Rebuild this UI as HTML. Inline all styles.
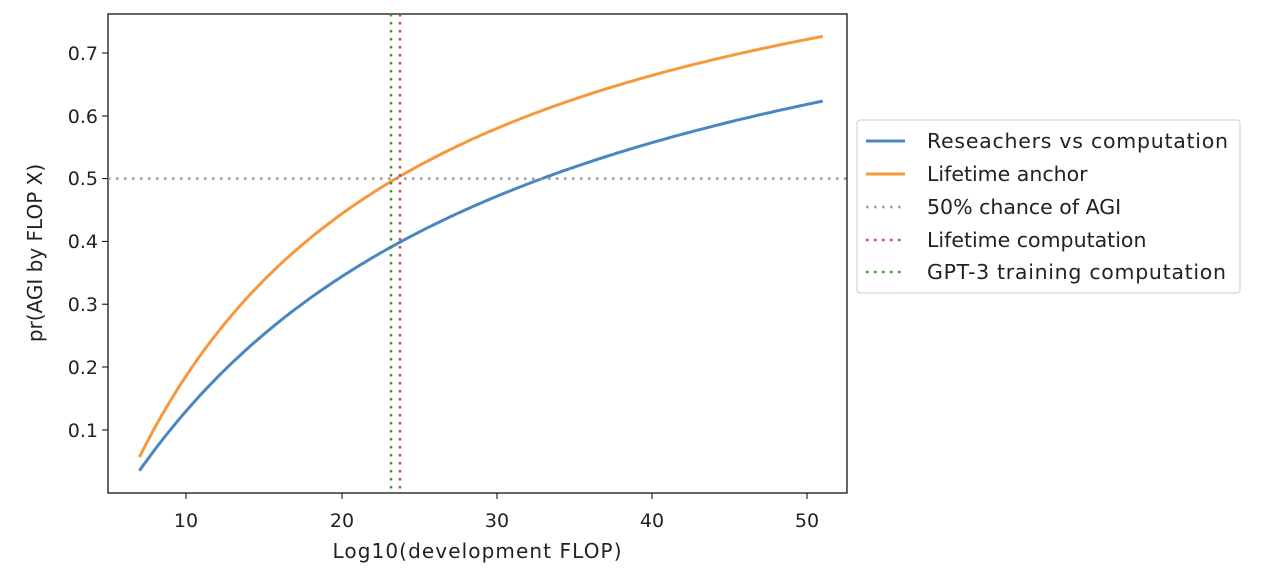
<!DOCTYPE html>
<html><head><style>body{margin:0;background:#fff}svg text{font-family:"DejaVu Sans","Liberation Sans",sans-serif;fill:#222}</style></head>
<body>
<svg id="s" width="1270" height="582" xmlns="http://www.w3.org/2000/svg">
<rect x="108" y="14" width="739" height="479" fill="none" stroke="#000" stroke-width="1.2"/>
<g id="g"></g>
<line x1="108" y1="178.6" x2="847" y2="178.6" stroke="#999" stroke-width="2.5" stroke-dasharray="2.5,5.5"/>
<line x1="400" y1="14" x2="400" y2="493" stroke="#c44e52" stroke-width="2.5" stroke-dasharray="2.5,5.5"/>
<line x1="391" y1="14" x2="391" y2="493" stroke="#3a9d23" stroke-width="2.5" stroke-dasharray="2.5,5.5"/>
<g font-size="19" text-anchor="middle">
<text x="186" y="527">10</text><text x="342" y="527">20</text><text x="497" y="527">30</text><text x="652" y="527">40</text><text x="807" y="527">50</text>
</g>
<g stroke="#000"><line x1="186" y1="493" x2="186" y2="499"/><line x1="342" y1="493" x2="342" y2="499"/><line x1="497" y1="493" x2="497" y2="499"/><line x1="652" y1="493" x2="652" y2="499"/><line x1="807" y1="493" x2="807" y2="499"/>
<line x1="102" y1="53" x2="108" y2="53"/><line x1="102" y1="116" x2="108" y2="116"/><line x1="102" y1="178.6" x2="108" y2="178.6"/><line x1="102" y1="241.4" x2="108" y2="241.4"/><line x1="102" y1="304.2" x2="108" y2="304.2"/><line x1="102" y1="367" x2="108" y2="367"/><line x1="102" y1="430" x2="108" y2="430"/></g>
<g font-size="19" text-anchor="end">
<text x="98" y="60">0.7</text><text x="98" y="123">0.6</text><text x="98" y="185">0.5</text><text x="98" y="248">0.4</text><text x="98" y="311">0.3</text><text x="98" y="374">0.2</text><text x="98" y="437">0.1</text>
</g>
<text x="477" y="558" font-size="20" text-anchor="middle" textLength="289">Log10(development FLOP)</text>
<text transform="translate(42,253) rotate(-90)" font-size="20" text-anchor="middle">pr(AGI by FLOP X)</text>
<rect x="857" y="120" width="383" height="173" fill="#fff" stroke="#ccc" rx="3"/>
<line x1="866" y1="141" x2="905" y2="141" stroke="#4a86c0" stroke-width="3"/>
<line x1="866" y1="174" x2="905" y2="174" stroke="#f5993d" stroke-width="3"/>
<line x1="866" y1="207" x2="905" y2="207" stroke="#999" stroke-width="2.5" stroke-dasharray="2.5,5.5"/>
<line x1="866" y1="240" x2="905" y2="240" stroke="#c44e52" stroke-width="2.5" stroke-dasharray="2.5,5.5"/>
<line x1="866" y1="272" x2="905" y2="272" stroke="#3a9d23" stroke-width="2.5" stroke-dasharray="2.5,5.5"/>
<g font-size="20.5">
<text x="927" y="148" textLength="301">Reseachers vs computation</text>
<text x="927" y="181">Lifetime anchor</text>
<text x="927" y="214">50% chance of AGI</text>
<text x="927" y="247">Lifetime computation</text>
<text x="927" y="279" textLength="299">GPT-3 training computation</text>
</g>
</svg>
<script>
function X(x){return 186+(x-10)*15.53}
function Y(p){return 430-(p-0.1)*628}
function path(A,B,c,col){var d="";for(var x=7;x<=51.001;x+=0.25){var p=A-B/(x-c);d+=(d?"L":"M")+X(x).toFixed(1)+","+Y(p).toFixed(1);}
var e=document.createElementNS("http://www.w3.org/2000/svg","path");e.setAttribute("d",d);e.setAttribute("fill","none");e.setAttribute("stroke",col);e.setAttribute("stroke-width","3");document.getElementById("g").appendChild(e);}
path(0.985,25.65,-20,"#4a86c0");
path(1.0236,18.85,-12.5,"#f5993d");
</script>
</body></html>
